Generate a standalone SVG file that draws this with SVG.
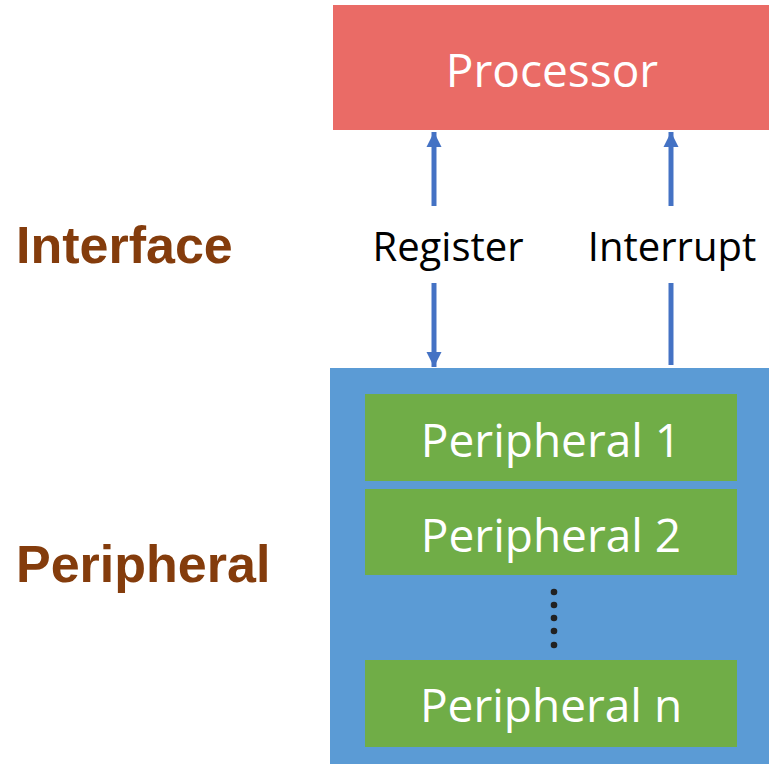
<svg xmlns="http://www.w3.org/2000/svg" width="769" height="764" viewBox="0 0 769 764">
<defs>
<style>
.big{font-family:"Open Sans","Liberation Sans",sans-serif;font-size:46px;fill:#ffffff;text-anchor:middle}
.lbl{font-family:"Open Sans","Liberation Sans",sans-serif;font-size:40px;fill:#000000;text-anchor:middle}
.side{font-family:"Liberation Sans",Arial,sans-serif;font-size:52px;font-weight:bold;fill:#843C0C}
.green{fill:#70AD47}
.conn{stroke:#4472C4;stroke-width:5;fill:none}
.dot{fill:#222222}
</style>
<marker id="ah" viewBox="0 0 10 10" refX="10" refY="5" markerWidth="3" markerHeight="3.2" orient="auto" markerUnits="strokeWidth">
<path d="M0,0 L10,5 L0,10 z" fill="#4472C4"/>
</marker>
</defs>
<rect width="769" height="764" fill="#ffffff"/>
<g id="label-interface"><text class="side" x="16" y="263">Interface</text></g>
<g id="label-peripheral"><text class="side" x="16" y="582">Peripheral</text></g>
<g id="processor">
<rect x="333" y="5" width="436" height="125" fill="#EA6B66"/>
<text class="big" x="552" y="87">Processor</text>
</g>
<g id="peripheral-block">
<rect x="330" y="368" width="439" height="396" fill="#5B9BD5"/>
</g>
<g id="peripheral-1">
<rect class="green" x="365" y="394" width="372" height="87"/>
<text class="big" x="551" y="457">Peripheral 1</text>
</g>
<g id="peripheral-2">
<rect class="green" x="365" y="489" width="372" height="86"/>
<text class="big" x="551" y="552">Peripheral 2</text>
</g>
<g id="ellipsis">
<circle class="dot" cx="554" cy="592" r="3.3"/>
<circle class="dot" cx="554" cy="605" r="3.3"/>
<circle class="dot" cx="554" cy="618" r="3.3"/>
<circle class="dot" cx="554" cy="631" r="3.3"/>
<circle class="dot" cx="554" cy="645" r="3.3"/>
</g>
<g id="peripheral-n">
<rect class="green" x="365" y="660" width="372" height="87"/>
<text class="big" x="551" y="722">Peripheral n</text>
</g>
<g id="connectors">
<line class="conn" x1="434" y1="206" x2="434" y2="132" marker-end="url(#ah)"/>
<line class="conn" x1="434" y1="283" x2="434" y2="367" marker-end="url(#ah)"/>
<line class="conn" x1="671" y1="206" x2="671" y2="132" marker-end="url(#ah)"/>
<line class="conn" x1="671" y1="283" x2="671" y2="365"/>
<text class="lbl" x="448" y="261">Register</text>
<text class="lbl" x="672" y="261">Interrupt</text>
</g>
</svg>
